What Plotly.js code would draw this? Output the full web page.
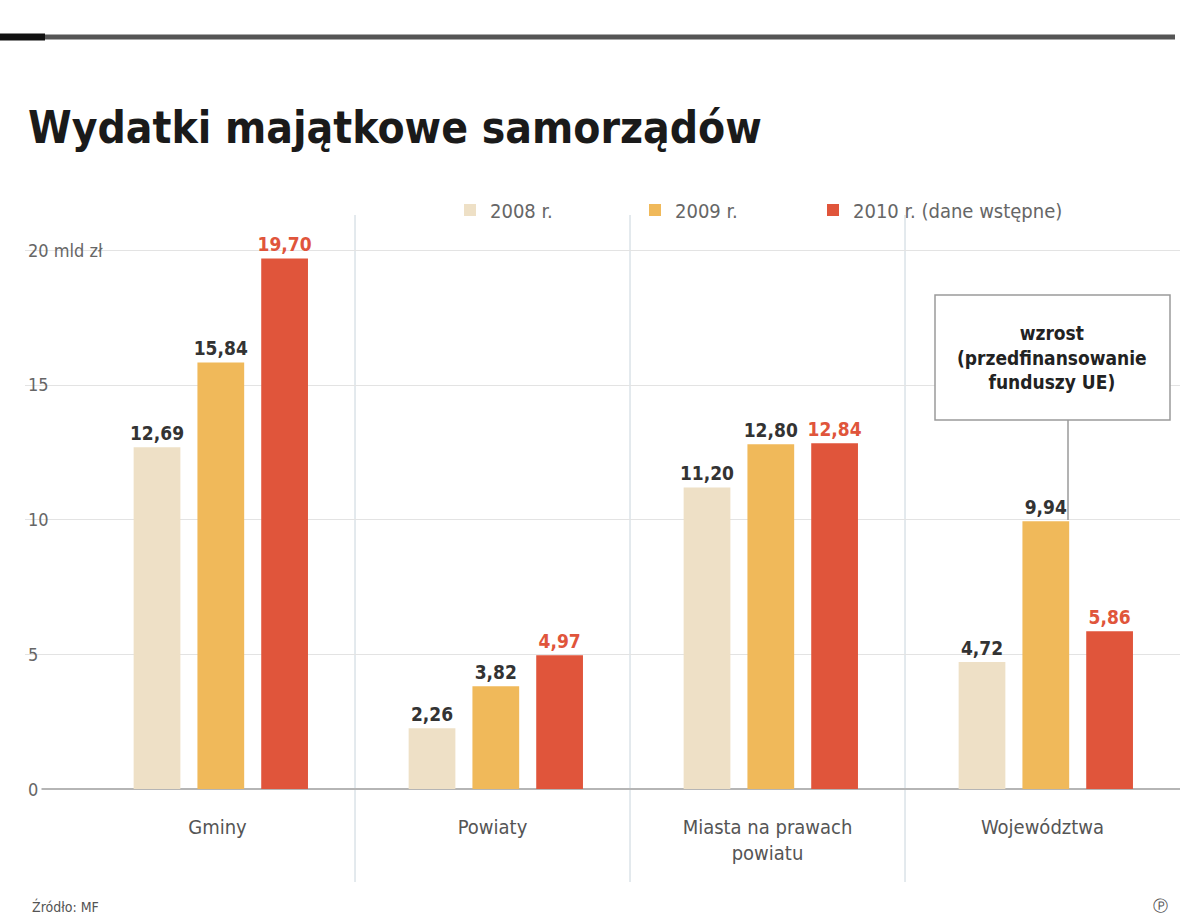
<!DOCTYPE html>
<html>
<head>
<meta charset="utf-8">
<script src="https://cdn.plot.ly/plotly-3.0.1.min.js"></script>
<style>
  html, body { margin: 0; padding: 0; background: #fff; }
  #chart { width: 1200px; height: 923px; }
</style>
</head>
<body>
<div id="chart"></div>
<script>
// Kategorie i wartości (mld zł)
const categories = ['Gminy', 'Powiaty', 'Miasta na prawach<br>powiatu', 'Województwa'];
const years = ['2008 r.', '2009 r.', '2010 r. (dane wstępne)'];
const values2008 = [12.69, 2.26, 11.20, 4.72];
const values2009 = [15.84, 3.82, 12.80, 9.94];
const values2010 = [19.70, 4.97, 12.84, 5.86];
const tickValues = [0, 5, 10, 15, 20];
const tickLabels = ['0', '5', '10', '15', '20 mld zł'];

const colors = ['#eee0c6', '#f0b95a', '#e0553b'];
const labelColors = ['#333333', '#333333', '#e0553b'];
const FONT = '"DejaVu Sans Condensed", "Liberation Sans Narrow", "DejaVu Sans", sans-serif';

// Piksele -> współrzędne paper (obszar wykresu 25..1180 x 210..789)
const PL = 25, PW = 1155, PB = 789, PH = 579;
const px = x => (x - PL) / PW;
const py = y => (PB - y) / PH;

function fmt(v) {
    return v.toFixed(2).replace('.', ',');
}

// każda seria ma własną legendę, żeby rozstawić pozycje jak w oryginale
const legendIds = ['legend', 'legend2', 'legend3'];
const legendX = [450, 635, 813];

const series = [values2008, values2009, values2010];
const traces = series.map((vals, i) => ({
    type: 'bar',
    name: years[i],
    legend: legendIds[i],
    x: [0, 1, 2, 3],
    y: vals,
    width: 0.17,
    offset: -0.305 + i * 0.232,
    marker: { color: colors[i] },
    text: vals.map(fmt),
    textposition: 'outside',
    constraintext: 'none',
    cliponaxis: false,
    textfont: { family: FONT, size: 19, color: labelColors[i], weight: 'bold' },
    hoverinfo: 'skip'
}));

const shapes = [
    // górna belka
    { type: 'line', xref: 'paper', yref: 'paper', x0: px(0), x1: px(1175), y0: py(37), y1: py(37),
      line: { color: '#555555', width: 5 } },
    { type: 'line', xref: 'paper', yref: 'paper', x0: px(0), x1: px(45), y0: py(37), y1: py(37),
      line: { color: '#111111', width: 7 } },
    // ramka objaśnienia
    { type: 'rect', xref: 'paper', yref: 'paper', x0: px(935), x1: px(1170), y0: py(420), y1: py(295),
      line: { color: '#9a9a9a', width: 1.5 }, fillcolor: '#ffffff' },
    { type: 'line', xref: 'paper', yref: 'paper', x0: px(1068), x1: px(1068), y0: py(420), y1: py(520),
      line: { color: '#9a9a9a', width: 1.5 } }
];
// separatory między grupami
[0.5, 1.5, 2.5].forEach(v => {
    shapes.push({ type: 'line', xref: 'x', yref: 'paper', x0: v, x1: v, y0: py(882), y1: py(215),
                  line: { color: '#c8d4dc', width: 1 }, layer: 'below' });
});

function legendAt(x) {
    return {
        orientation: 'h',
        x: px(x), xanchor: 'left',
        y: py(210), yanchor: 'middle',
        bgcolor: 'rgba(0,0,0,0)',
        font: { family: FONT, size: 20, color: '#666666' }
    };
}

const layout = {
    width: 1200,
    height: 923,
    margin: { l: PL, r: 1200 - PL - PW, t: 210, b: 923 - PB },
    paper_bgcolor: '#ffffff',
    plot_bgcolor: '#ffffff',
    font: { family: FONT, color: '#555555' },
    title: {
        text: '<b>Wydatki majątkowe samorządów</b>',
        x: 28 / 1200, xanchor: 'left',
        y: 1 - 128 / 923, yanchor: 'middle',
        xref: 'container', yref: 'container',
        font: { family: FONT, size: 44, color: '#1a1a1a' }
    },
    showlegend: true,
    legend: legendAt(legendX[0]),
    legend2: legendAt(legendX[1]),
    legend3: legendAt(legendX[2]),
    xaxis: {
        range: [-0.7, 3.5],
        tickvals: [0, 1, 2, 3],
        ticktext: categories,
        showgrid: false,
        zeroline: false,
        showline: false,
        ticks: '',
        tickfont: { family: FONT, size: 20, color: '#555555' },
        ticklabelstandoff: 24
    },
    yaxis: {
        range: [0, 21.5],
        tickvals: tickValues,
        ticktext: tickLabels,
        ticklabelposition: 'inside',
        tickfont: { family: FONT, size: 18, color: '#666666' },
        showgrid: true,
        gridcolor: '#e3e3e3',
        gridwidth: 1,
        zeroline: true,
        zerolinecolor: '#b5b5b5',
        zerolinewidth: 1.5,
        ticks: ''
    },
    shapes: shapes,
    annotations: [
        // etykieta zera (ukrywana przez Plotly przy ticklabelposition 'inside')
        { xref: 'paper', yref: 'y', x: px(24), y: tickValues[0], xanchor: 'left', yanchor: 'middle',
          text: tickLabels[0], showarrow: false, font: { family: FONT, size: 18, color: '#666666' },
          bgcolor: '#ffffff', borderpad: 3 },
        { xref: 'paper', yref: 'paper', x: px(1052), y: py(357), xanchor: 'center', yanchor: 'middle',
          text: '<b>wzrost<br>(przedfinansowanie<br>funduszy UE)</b>', showarrow: false,
          font: { family: FONT, size: 19, color: '#222222' }, align: 'center' },
        { xref: 'paper', yref: 'paper', x: px(30), y: py(906), xanchor: 'left', yanchor: 'middle',
          text: 'Źródło: MF', showarrow: false, font: { family: FONT, size: 14, color: '#555555' } },
        { xref: 'paper', yref: 'paper', x: px(1170), y: py(906), xanchor: 'right', yanchor: 'middle',
          text: 'Ⓟ', showarrow: false, font: { family: FONT, size: 15, color: '#555555' } }
    ]
};

Plotly.newPlot('chart', traces, layout, { displayModeBar: false, staticPlot: true });
</script>
</body>
</html>
